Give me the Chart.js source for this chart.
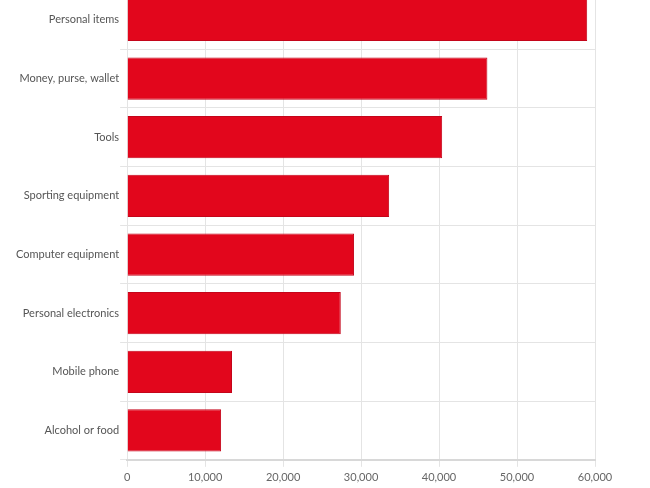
<!DOCTYPE html>
<html>
<head>
<meta charset="utf-8">
<script src="https://cdn.jsdelivr.net/npm/chart.js@4/dist/chart.umd.min.js"></script>
<style>
  html, body { margin: 0; padding: 0; background: #fff; overflow: hidden; }
  #wrap { position: absolute; left: 0; top: -17px; width: 650px; height: 509px; }
</style>
</head>
<body>
<div id="wrap"><canvas id="c"></canvas></div>
<script>
const categories = ["Personal items", "Money, purse, wallet", "Tools", "Sporting equipment", "Computer equipment", "Personal electronics", "Mobile phone", "Alcohol or food"];
const values = [59000, 46200, 40400, 33600, 29100, 27400, 13450, 12050];
const xTicks = [0, 10000, 20000, 30000, 40000, 50000, 60000];

new Chart(document.getElementById('c'), {
  type: 'bar',
  data: {
    labels: categories,
    datasets: [{
      data: values,
      backgroundColor: '#e2061c',
      borderColor: '#c4051a',
      borderWidth: 1,
      categoryPercentage: 1.0,
      barPercentage: 0.72
    }]
  },
  options: {
    indexAxis: 'y',
    responsive: true,
    maintainAspectRatio: false,
    animation: false,
    layout: { padding: { left: 15, right: 55, top: 0, bottom: 4 } },
    plugins: { legend: { display: false }, tooltip: { enabled: false } },
    scales: {
      x: {
        min: 0, max: 60000,
        afterBuildTicks: (s) => { s.ticks = xTicks.map(v => ({ value: v })); },
        ticks: {
          color: '#666',
          font: { family: 'Lato', size: 11 },
          padding: 4,
          callback: (v) => Number(v).toLocaleString('en-US')
        },
        grid: { color: '#e4e4e4', tickLength: 7, tickColor: '#e4e4e4' },
        border: { color: '#d8d8d8', width: 2 }
      },
      y: {
        ticks: {
          color: '#555',
          font: { family: 'Lato', size: 11 },
          padding: 1
        },
        grid: { color: '#e4e4e4', offset: true, tickLength: 7, drawOnChartArea: true },
        border: { display: false }
      }
    }
  }
});
</script>
</body>
</html>
